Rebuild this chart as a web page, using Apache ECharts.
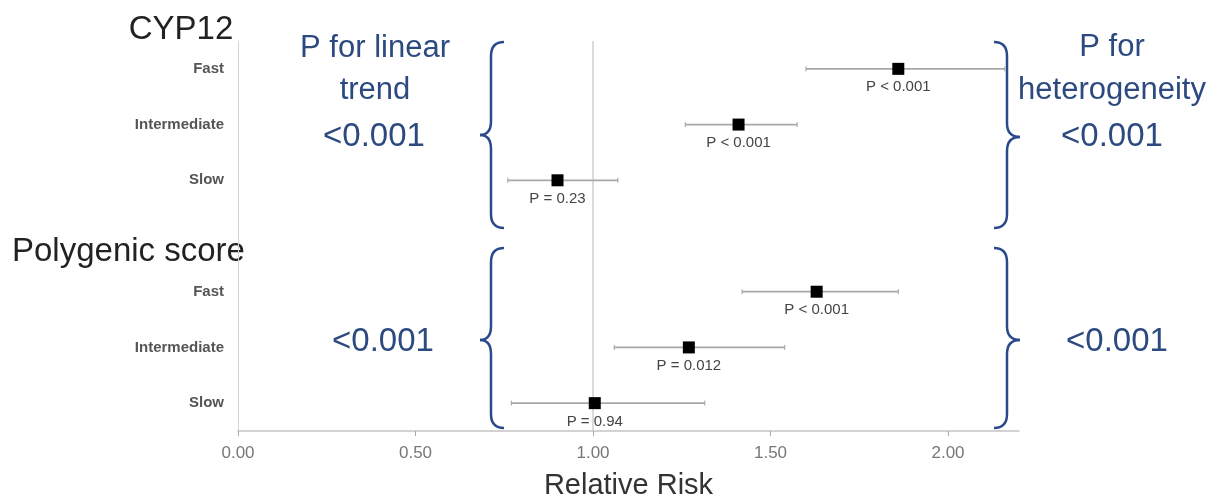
<!DOCTYPE html>
<html>
<head>
<meta charset="utf-8">
<script src="https://cdn.jsdelivr.net/npm/echarts@6/dist/echarts.min.js"></script>
<style>
html,body{margin:0;padding:0;background:#fff;}
#chart{width:1228px;height:499px;}
</style>
</head>
<body>
<div id="chart"></div>
<script>
// ---- data ----
const categories = ['Fast', 'Intermediate', 'Slow', '', 'Fast', 'Intermediate', 'Slow'];
const relativeRisk = [1.86, 1.41, 0.90, null, 1.63, 1.27, 1.005];
const lowerCI = [1.60, 1.26, 0.76, null, 1.42, 1.06, 0.77];
const upperCI = [2.16, 1.575, 1.07, null, 1.86, 1.54, 1.315];
const pLabels = ['P < 0.001', 'P < 0.001', 'P = 0.23', '', 'P < 0.001', 'P = 0.012', 'P = 0.94'];
const groupTitles = ['CYP12', 'Polygenic score'];
const trendP = ['<0.001', '<0.001'];
const heteroP = ['<0.001', '<0.001'];
const xTicks = [0, 0.5, 1, 1.5, 2];
const refValue = 1.0;

const blue = '#2C4A80';
const braceColor = '#2B4A8B';
const FONT = '"Liberation Sans", Arial, sans-serif';

const chart = echarts.init(document.getElementById('chart'));

const pointData = [];
const barData = [];
relativeRisk.forEach((v, i) => {
  if (v == null) return;
  pointData.push({ value: [v, i], label: { formatter: pLabels[i] } });
  barData.push([lowerCI[i], upperCI[i], i]);
});

const braceStyle = { stroke: braceColor, lineWidth: 2.5, fill: null };
function brace(xt, xb, xe, yT, yM, yB, r) {
  return [
    { type: 'bezierCurve', shape: { x1: xe, y1: yT, cpx1: xb, cpy1: yT, x2: xb, y2: yT + r }, style: braceStyle },
    { type: 'line', shape: { x1: xb, y1: yT + r, x2: xb, y2: yM - r }, style: braceStyle },
    { type: 'bezierCurve', shape: { x1: xb, y1: yM - r, cpx1: xb, cpy1: yM, x2: xt, y2: yM }, style: braceStyle },
    { type: 'bezierCurve', shape: { x1: xt, y1: yM, cpx1: xb, cpy1: yM, x2: xb, y2: yM + r }, style: braceStyle },
    { type: 'line', shape: { x1: xb, y1: yM + r, x2: xb, y2: yB - r }, style: braceStyle },
    { type: 'bezierCurve', shape: { x1: xb, y1: yB - r, cpx1: xb, cpy1: yB, x2: xe, y2: yB }, style: braceStyle }
  ];
}

const txt = (x, y, text, size, color, align) => ({
  type: 'text', x: x, y: y,
  style: { text: text, fill: color, font: `${size}px ${FONT}`, textAlign: align || 'center', textVerticalAlign: 'middle' }
});

chart.setOption({
  animation: false,
  backgroundColor: '#fff',
  grid: { left: 238, right: 209, top: 41, bottom: 68, containLabel: false, outerBoundsMode: 'none' },
  xAxis: {
    type: 'value', min: 0, max: 2.2, interval: 0.5,
    splitLine: { show: false },
    axisLine: { show: true, lineStyle: { color: '#c4c4c4', width: 1.5 } },
    axisTick: { show: true, length: 5, lineStyle: { color: '#aaa' } },
    axisLabel: {
      showMaxLabel: false, margin: 14, color: '#777', fontSize: 17, fontFamily: FONT,
      formatter: v => (xTicks.indexOf(v) >= 0 ? v.toFixed(2) : '')
    },
    name: 'Relative Risk', nameLocation: 'middle', nameGap: 40,
    nameTextStyle: { fontSize: 29, color: '#333', fontFamily: FONT }
  },
  yAxis: {
    type: 'category', data: categories, inverse: true,
    axisLine: { show: true, lineStyle: { color: '#d4d4d4', width: 1 } },
    axisTick: { show: false },
    splitLine: { show: false },
    axisLabel: { color: '#555', fontSize: 15, fontWeight: 'bold', fontFamily: FONT, margin: 14 }
  },
  series: [
    {
      type: 'custom',
      data: barData,
      z: 2,
      renderItem: function (params, api) {
        const lo = api.coord([api.value(0), api.value(2)]);
        const hi = api.coord([api.value(1), api.value(2)]);
        const y = lo[1];
        const st = { stroke: '#a8a8a8', lineWidth: 1.8 };
        const cap = { stroke: '#a0a0a0', lineWidth: 1 };
        return {
          type: 'group',
          children: [
            { type: 'line', shape: { x1: lo[0], y1: y, x2: hi[0], y2: y }, style: st },
            { type: 'line', shape: { x1: lo[0], y1: y - 2.5, x2: lo[0], y2: y + 2.5 }, style: cap },
            { type: 'line', shape: { x1: hi[0], y1: y - 2.5, x2: hi[0], y2: y + 2.5 }, style: cap }
          ]
        };
      }
    },
    {
      type: 'scatter',
      data: pointData,
      symbol: 'rect',
      symbolSize: 12,
      z: 3,
      itemStyle: { color: '#000', opacity: 1 },
      label: {
        show: true, position: 'bottom', distance: 5,
        color: '#444', fontSize: 15, fontFamily: FONT
      },
      markLine: {
        silent: true, symbol: 'none', z: 1,
        label: { show: false },
        lineStyle: { color: '#cfcfcf', width: 1.5, type: 'solid' },
        data: [{ xAxis: refValue }]
      }
    }
  ],
  graphic: [
    txt(181, 30, groupTitles[0], 33, '#222'),
    txt(12, 252, groupTitles[1], 33, '#222', 'left'),
    txt(375, 48, 'P for linear', 31, blue),
    txt(375, 90, 'trend', 31, blue),
    txt(374, 137, trendP[0], 33, blue),
    txt(1112, 47, 'P for', 31, blue),
    txt(1112, 90, 'heterogeneity', 31, blue),
    txt(1112, 137, heteroP[0], 33, blue),
    txt(383, 342, trendP[1], 33, blue),
    txt(1117, 342, heteroP[1], 33, blue)
  ].concat(
    brace(480, 491, 504, 42, 135, 228, 14),
    brace(480, 491, 504, 248, 340, 428, 14),
    brace(1020, 1007, 994, 42, 137, 228, 14),
    brace(1020, 1007, 994, 248, 340, 428, 14)
  )
});
</script>
</body>
</html>
